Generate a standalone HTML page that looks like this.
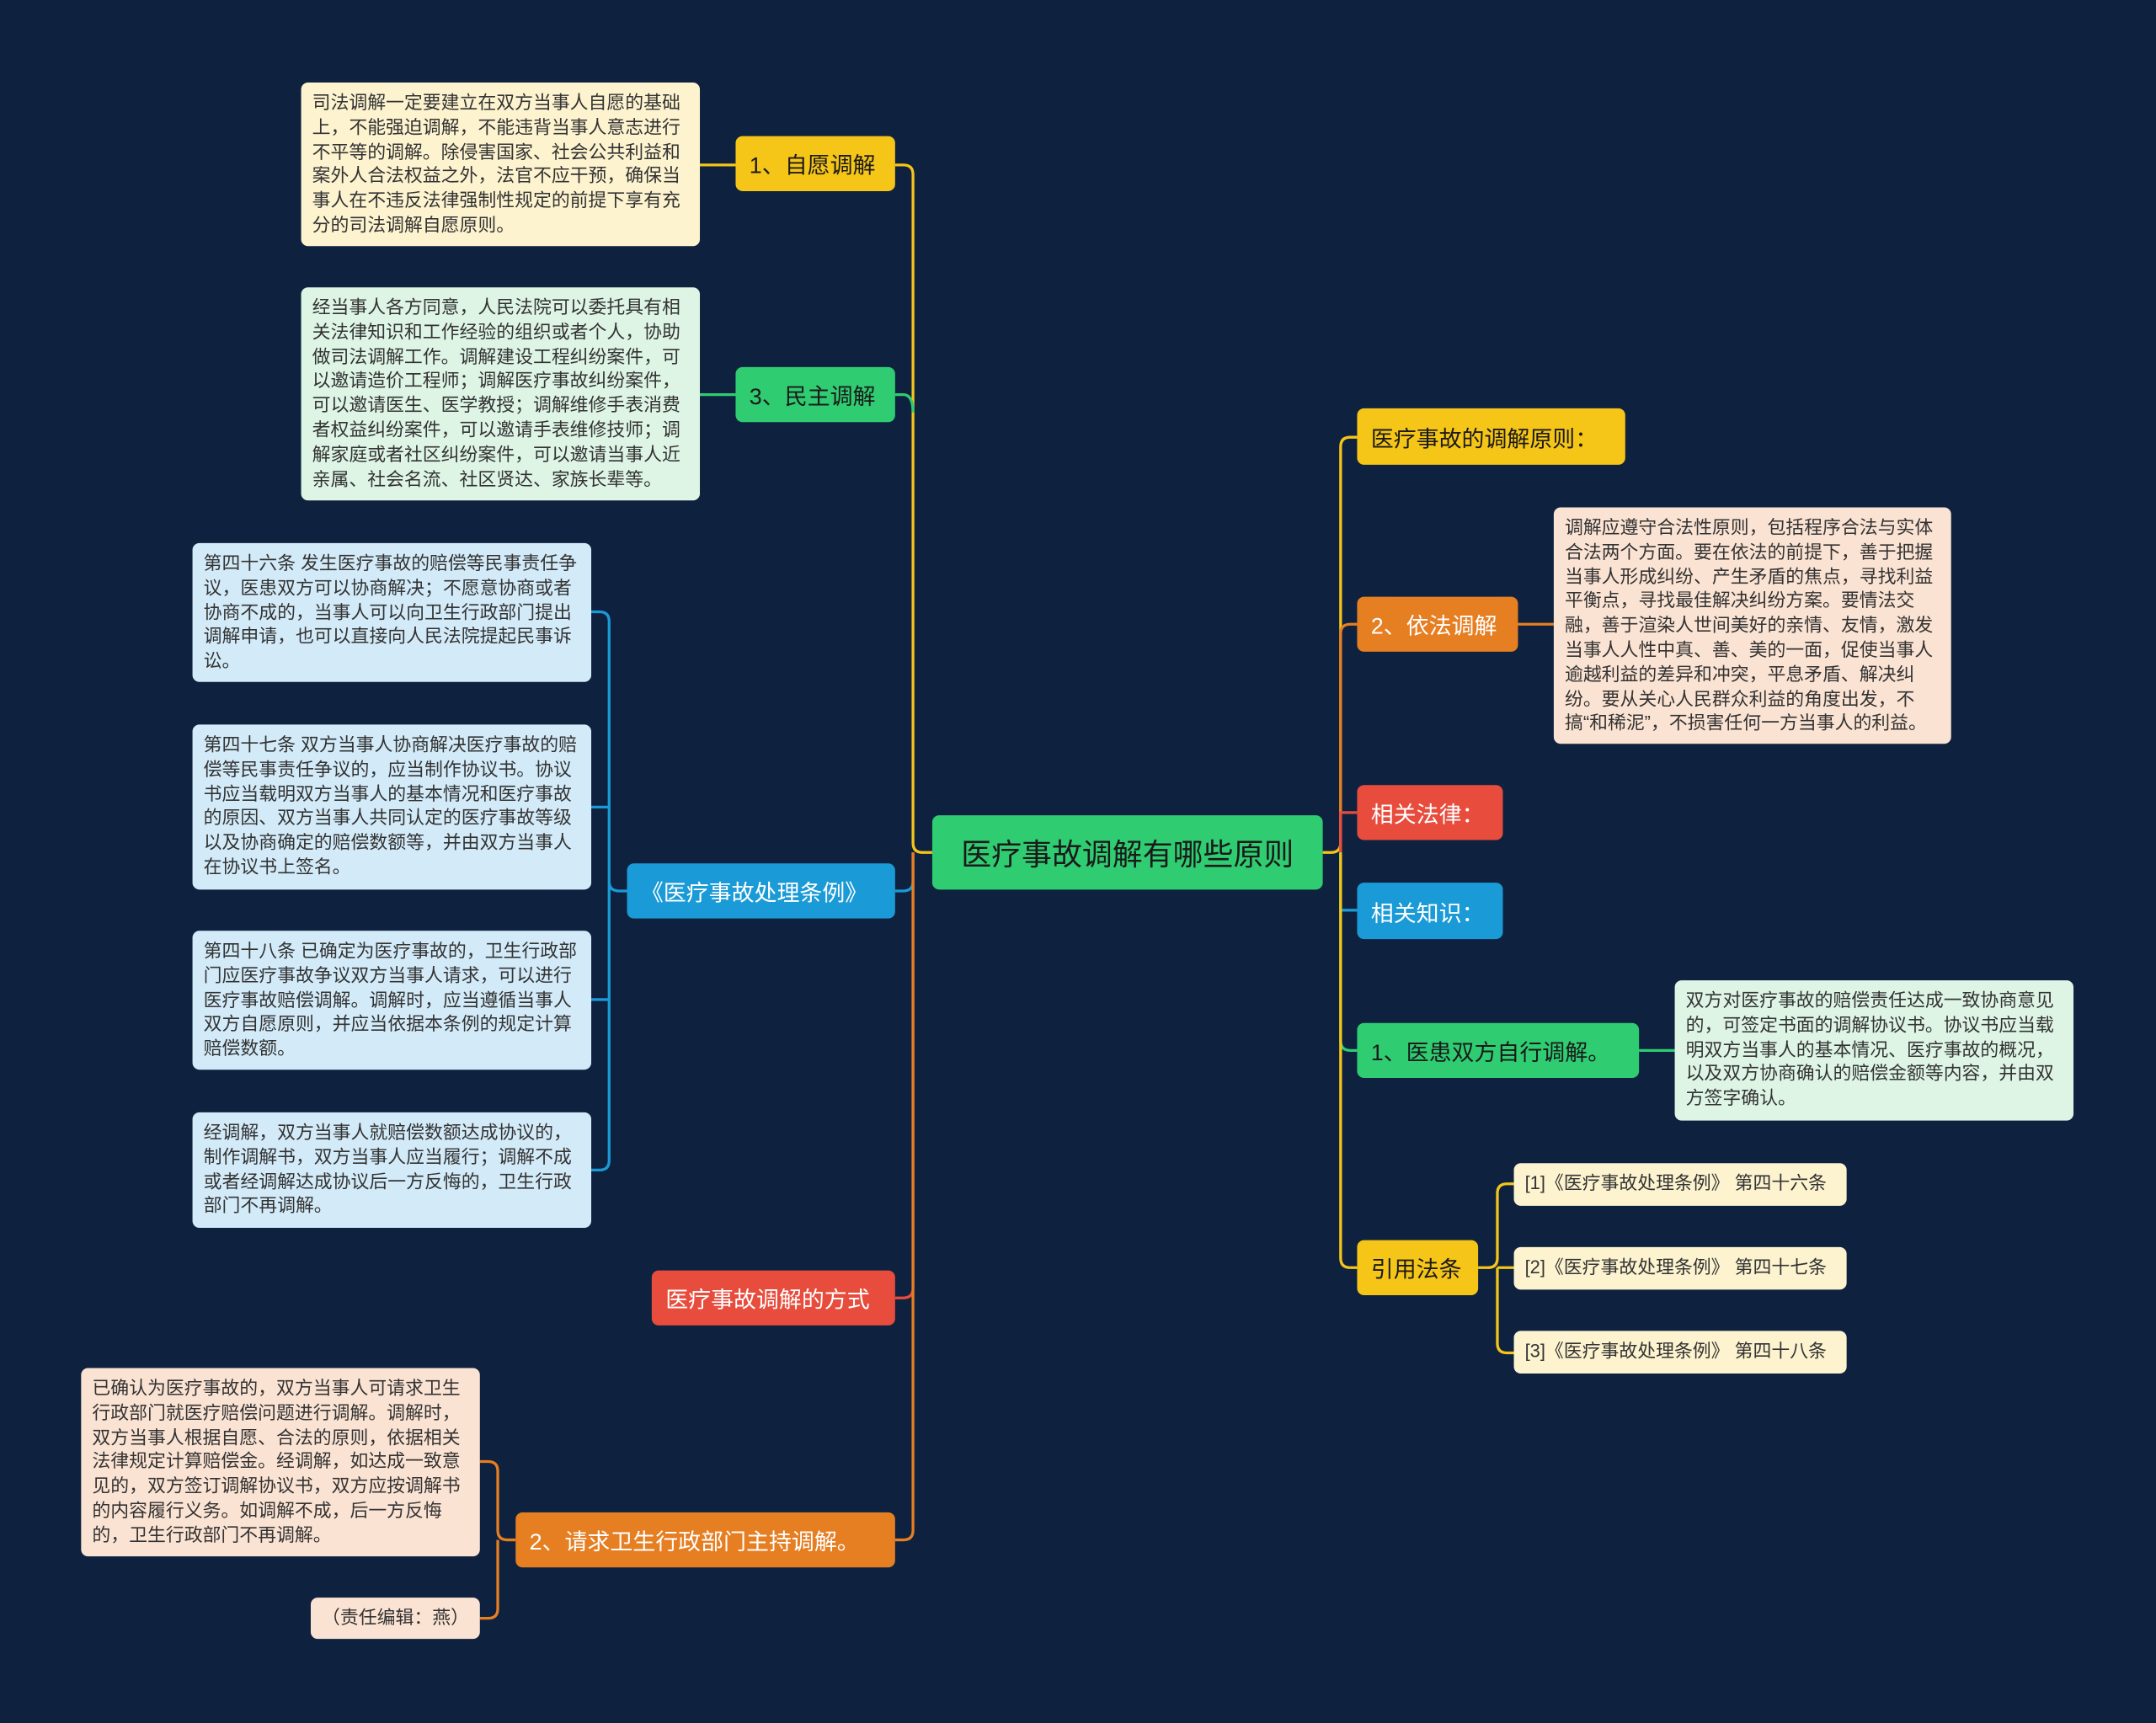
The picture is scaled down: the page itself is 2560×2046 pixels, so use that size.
<!DOCTYPE html>
<html><head><meta charset="utf-8"><style>
html,body{margin:0;padding:0;background:#0e2240;}
#w{position:relative;width:1568px;height:1253px;transform:scale(1.63265);transform-origin:0 0;font-family:"Liberation Sans","Noto Sans CJK SC",sans-serif;}
.n{position:absolute;box-sizing:border-box;border-radius:5px;display:flex;align-items:center;padding:0 10px;font-size:16.5px;color:#1a1a1a;white-space:nowrap;}
.t{position:absolute;box-sizing:border-box;border-radius:5px;padding:6px 8px;font-size:13.4px;line-height:17.8px;color:#333;}
.y{background:#f5c518}.g{background:#2fcc71}.b{background:#1a9ad6;color:#fff}.r{background:#e74c3c;color:#fff}.o{background:#e67e22;color:#fff}
.ty{background:#fdf3cf}.tg{background:#def5e6}.tb{background:#d3ebf9}.to{background:#fbe3d3}
svg{position:absolute;left:0;top:0}
</style></head><body><div id="w">
<svg width="1568" height="1253" fill="none" stroke-width="2">
<path d="M678 620H671Q664 620 664 613V127Q664 120 657 120H651" stroke="#f5c518"/>
<path d="M664 300Q664 287 657 287H651" stroke="#2fcc71"/>
<path d="M664 620V641Q664 648 657 648H651" stroke="#1a9ad6"/>
<path d="M664 620V937Q664 944 657 944H651" stroke="#e74c3c"/>
<path d="M664 620V1113Q664 1120 657 1120H651" stroke="#e67e22"/>
<path d="M535 120H509" stroke="#f5c518"/>
<path d="M535 287H509" stroke="#2fcc71"/>
<path d="M456 648H450Q443 648 443 641V452Q443 445 436 445H430M443 587H430M443 727H430M443 641V844Q443 851 436 851H430" stroke="#1a9ad6"/>
<path d="M375 1120H369Q362 1120 362 1113V1070Q362 1063 355 1063H349M362 1120V1170Q362 1177 355 1177H349" stroke="#e67e22"/>
<path d="M962 620H968Q975 620 975 613V325Q975 318 982 318H987" stroke="#f5c518"/>
<path d="M975 620V461Q975 454 982 454H987" stroke="#e67e22"/>
<path d="M975 620V591H987" stroke="#e74c3c"/>
<path d="M975 620V662H987" stroke="#1a9ad6"/>
<path d="M975 620V757Q975 764 982 764H987" stroke="#2fcc71"/>
<path d="M975 620V915Q975 922 982 922H987" stroke="#f5c518"/>
<path d="M1104 454H1130" stroke="#e67e22"/>
<path d="M1192 764H1218" stroke="#2fcc71"/>
<path d="M1075 922H1082Q1089 922 1089 915V868Q1089 861 1096 861H1101M1089 922H1101M1089 922V977Q1089 984 1096 984H1101" stroke="#f5c518"/>
</svg>
<div class="n g" style="left:678px;top:593px;width:284px;height:54px;font-size:22px;justify-content:center">医疗事故调解有哪些原则</div>
<div class="n y" style="left:535px;top:99px;width:116px;height:40px">1、自愿调解</div>
<div class="n g" style="left:535px;top:267px;width:116px;height:40px">3、民主调解</div>
<div class="n b" style="left:456px;top:628px;width:195px;height:40px">《医疗事故处理条例》</div>
<div class="n r" style="left:474px;top:924px;width:177px;height:40px">医疗事故调解的方式</div>
<div class="n o" style="left:375px;top:1100px;width:276px;height:40px">2、请求卫生行政部门主持调解。</div>
<div class="t ty" style="left:219px;top:60px;width:290px;height:119px">司法调解一定要建立在双方当事人自愿的基础上，不能强迫调解，不能违背当事人意志进行不平等的调解。除侵害国家、社会公共利益和案外人合法权益之外，法官不应干预，确保当事人在不违反法律强制性规定的前提下享有充分的司法调解自愿原则。</div>
<div class="t tg" style="left:219px;top:209px;width:290px;height:155px">经当事人各方同意，人民法院可以委托具有相关法律知识和工作经验的组织或者个人，协助做司法调解工作。调解建设工程纠纷案件，可以邀请造价工程师；调解医疗事故纠纷案件，可以邀请医生、医学教授；调解维修手表消费者权益纠纷案件，可以邀请手表维修技师；调解家庭或者社区纠纷案件，可以邀请当事人近亲属、社会名流、社区贤达、家族长辈等。</div>
<div class="t tb" style="left:140px;top:395px;width:290px;height:101px">第四十六条 发生医疗事故的赔偿等民事责任争议，医患双方可以协商解决；不愿意协商或者协商不成的，当事人可以向卫生行政部门提出调解申请，也可以直接向人民法院提起民事诉讼。</div>
<div class="t tb" style="left:140px;top:527px;width:290px;height:120px">第四十七条 双方当事人协商解决医疗事故的赔偿等民事责任争议的，应当制作协议书。协议书应当载明双方当事人的基本情况和医疗事故的原因、双方当事人共同认定的医疗事故等级以及协商确定的赔偿数额等，并由双方当事人在协议书上签名。</div>
<div class="t tb" style="left:140px;top:677px;width:290px;height:101px">第四十八条 已确定为医疗事故的，卫生行政部门应医疗事故争议双方当事人请求，可以进行医疗事故赔偿调解。调解时，应当遵循当事人双方自愿原则，并应当依据本条例的规定计算赔偿数额。</div>
<div class="t tb" style="left:140px;top:809px;width:290px;height:84px">经调解，双方当事人就赔偿数额达成协议的，制作调解书，双方当事人应当履行；调解不成或者经调解达成协议后一方反悔的，卫生行政部门不再调解。</div>
<div class="t to" style="left:59px;top:995px;width:290px;height:137px">已确认为医疗事故的，双方当事人可请求卫生行政部门就医疗赔偿问题进行调解。调解时，双方当事人根据自愿、合法的原则，依据相关法律规定计算赔偿金。经调解，如达成一致意见的，双方签订调解协议书，双方应按调解书的内容履行义务。如调解不成，后一方反悔的，卫生行政部门不再调解。</div>
<div class="t to" style="left:226px;top:1162px;width:123px;height:30px;text-align:center;padding-top:6px">（责任编辑：燕）</div>
<div class="n y" style="left:987px;top:297px;width:195px;height:41px">医疗事故的调解原则：</div>
<div class="n o" style="left:987px;top:434px;width:117px;height:40px">2、依法调解</div>
<div class="n r" style="left:987px;top:571px;width:106px;height:40px">相关法律：</div>
<div class="n b" style="left:987px;top:642px;width:106px;height:41px">相关知识：</div>
<div class="n g" style="left:987px;top:744px;width:205px;height:40px">1、医患双方自行调解。</div>
<div class="n y" style="left:987px;top:902px;width:88px;height:40px">引用法条</div>
<div class="t to" style="left:1130px;top:369px;width:289px;height:172px">调解应遵守合法性原则，包括程序合法与实体合法两个方面。要在依法的前提下，善于把握当事人形成纠纷、产生矛盾的焦点，寻找利益平衡点，寻找最佳解决纠纷方案。要情法交融，善于渲染人世间美好的亲情、友情，激发当事人人性中真、善、美的一面，促使当事人逾越利益的差异和冲突，平息矛盾、解决纠纷。要从关心人民群众利益的角度出发，不搞“和稀泥”，不损害任何一方当事人的利益。</div>
<div class="t tg" style="left:1218px;top:713px;width:290px;height:102px">双方对医疗事故的赔偿责任达成一致协商意见的，可签定书面的调解协议书。协议书应当载明双方当事人的基本情况、医疗事故的概况，以及双方协商确认的赔偿金额等内容，并由双方签字确认。</div>
<div class="t ty" style="left:1101px;top:846px;width:242px;height:31px;padding-top:6px">[1]《医疗事故处理条例》 第四十六条</div>
<div class="t ty" style="left:1101px;top:907px;width:242px;height:31px;padding-top:6px">[2]《医疗事故处理条例》 第四十七条</div>
<div class="t ty" style="left:1101px;top:968px;width:242px;height:31px;padding-top:6px">[3]《医疗事故处理条例》 第四十八条</div>
</div></body></html>
